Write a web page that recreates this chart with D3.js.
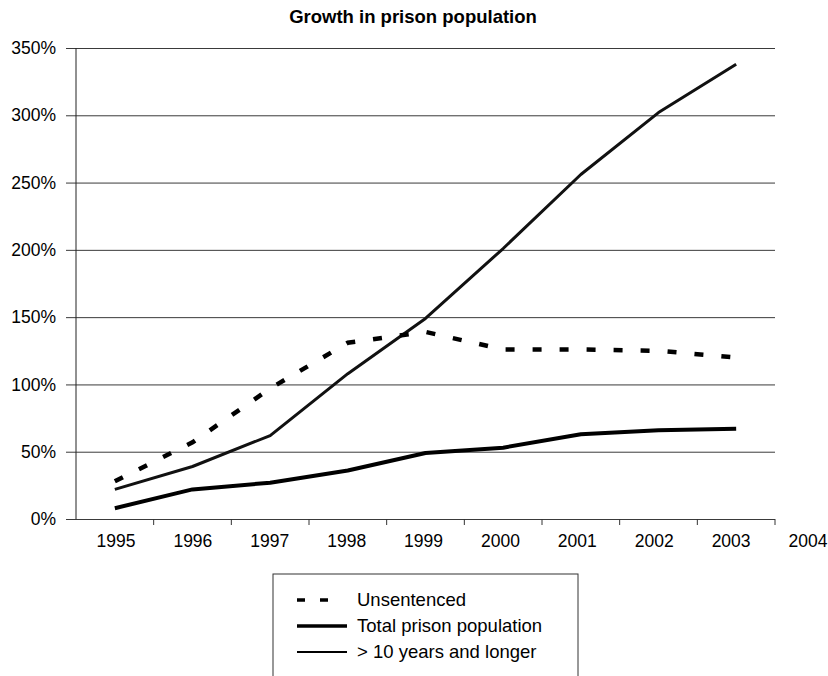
<!DOCTYPE html>
<html>
<head>
<meta charset="utf-8">
<script src="https://cdn.jsdelivr.net/npm/d3@7"></script>
<style>
  body { margin: 0; background: #fff; }
  svg { display: block; font-family: "Liberation Sans", Arial, sans-serif; }
  .grid line { stroke: #3a3a3a; stroke-width: 1; }
  .grid path { display: none; }
</style>
</head>
<body>
<svg width="828" height="676"></svg>
<script>
// years on the category axis and the extra label the original prints after it
var years = ["1995", "1996", "1997", "1998", "1999", "2000", "2001", "2002", "2003"];
var yearLabels = ["1995", "1996", "1997", "1998", "1999", "2000", "2001", "2002", "2003", "2004"];

// growth in %
var unsentenced = [28, 57, 97, 131, 139, 126, 126, 125, 120];
var totalPrison = [8, 22, 27, 36, 49, 53, 63, 66, 67];
var tenYears    = [22, 39, 62, 108, 149, 201, 256, 302, 338];

var yTicks = [0, 50, 100, 150, 200, 250, 300, 350];

var seriesNames = ["Unsentenced", "Total prison population", "> 10 years and longer"];

var svg = d3.select("svg");

// plot box (x0/x1 left-right, y0 bottom, y1 top)
var plot = {x0: 76, x1: 775, y0: 519, y1: 48};

var x = d3.scaleBand().domain(years).range([plot.x0, plot.x1]);
var xLab = d3.scalePoint().domain(yearLabels).range([116, 808]);
var y = d3.scaleLinear().domain([0, 350]).range([plot.y0, plot.y1]);

// title
svg.append("text")
  .attr("x", 413)
  .attr("y", 23)
  .attr("text-anchor", "middle")
  .attr("font-size", 18.5)
  .attr("font-weight", "bold")
  .text("Growth in prison population");

// horizontal grid lines incl. the little tick stubs on the left
svg.append("g")
  .attr("class", "grid")
  .attr("transform", "translate(" + plot.x1 + ",0)")
  .call(d3.axisLeft(y).tickValues(yTicks).tickSize(plot.x1 - plot.x0 + 10).tickFormat(""));

// y labels
svg.append("g")
  .selectAll("text")
  .data(yTicks)
  .enter().append("text")
  .attr("x", 56)
  .attr("y", function(d) { return y(d); })
  .attr("dy", "0.35em")
  .attr("text-anchor", "end")
  .attr("font-size", 17.5)
  .text(function(d) { return d + "%"; });

// y axis line
svg.append("line")
  .attr("x1", plot.x0).attr("x2", plot.x0)
  .attr("y1", y(350)).attr("y2", y(0))
  .attr("stroke", "#222");

// x axis ticks between categories
svg.append("g")
  .selectAll("line")
  .data(years)
  .enter().append("line")
  .attr("x1", function(d) { return x(d) + x.bandwidth(); })
  .attr("x2", function(d) { return x(d) + x.bandwidth(); })
  .attr("y1", y(0))
  .attr("y2", y(0) + 6)
  .attr("stroke", "#333");

// x labels
svg.append("g")
  .selectAll("text")
  .data(yearLabels)
  .enter().append("text")
  .attr("x", function(d) { return xLab(d); })
  .attr("y", 547)
  .attr("text-anchor", "middle")
  .attr("font-size", 17.5)
  .text(function(d) { return d; });

var line = d3.line()
  .x(function(d, i) { return x(years[i]) + x.bandwidth() / 2; })
  .y(function(d) { return y(d); });

svg.append("path")
  .datum(tenYears)
  .attr("d", line)
  .attr("fill", "none")
  .attr("stroke", "#111")
  .attr("stroke-width", 3)
  .attr("stroke-linejoin", "round");

svg.append("path")
  .datum(totalPrison)
  .attr("d", line)
  .attr("fill", "none")
  .attr("stroke", "#000")
  .attr("stroke-width", 4)
  .attr("stroke-linejoin", "round");

svg.append("path")
  .datum(unsentenced)
  .attr("d", line)
  .attr("fill", "none")
  .attr("stroke", "#000")
  .attr("stroke-width", 4.5)
  .attr("stroke-dasharray", "9,18");

// legend
var lg = svg.append("g").attr("transform", "translate(273,574)");

lg.append("rect")
  .attr("x", 0).attr("y", 0)
  .attr("width", 305).attr("height", 120)
  .attr("fill", "#fff")
  .attr("stroke", "#333");

var legendStyles = [
  {w: 3.5, dash: "8,15", len: 32},
  {w: 3.5, dash: null, len: 50},
  {w: 2.2, dash: null, len: 50}
];

legendStyles.forEach(function(s, i) {
  var ly = 26 + i * 26;
  lg.append("line")
    .attr("x1", 24).attr("x2", 24 + s.len)
    .attr("y1", ly).attr("y2", ly)
    .attr("stroke", "#000")
    .attr("stroke-width", s.w)
    .attr("stroke-dasharray", s.dash);
  lg.append("text")
    .attr("x", 84)
    .attr("y", ly)
    .attr("dy", "0.35em")
    .attr("font-size", 18.5)
    .text(seriesNames[i]);
});
</script>
</body>
</html>
